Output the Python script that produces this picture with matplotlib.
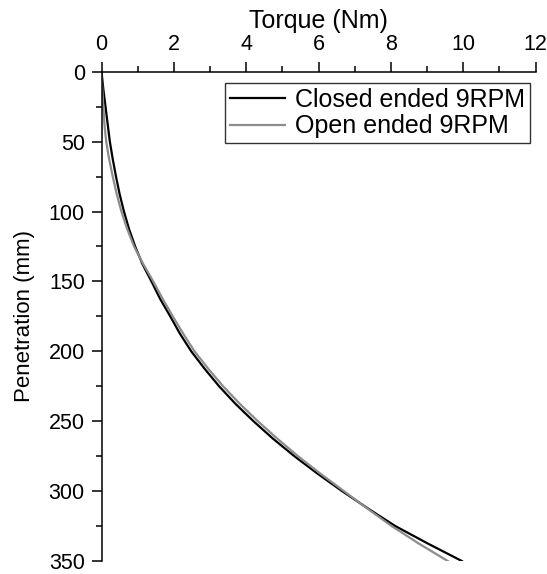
import matplotlib
matplotlib.use("Agg")
import matplotlib.pyplot as plt
from matplotlib.ticker import MultipleLocator

plt.rcParams['font.family'] = ['Liberation Sans', 'DejaVu Sans']

depth = [0, 12.5, 25, 37.5, 50, 62.5, 75, 87.5, 100, 112.5, 125, 137.5, 150, 162.5,
         175, 187.5, 200, 212.5, 225, 237.5, 250, 262.5, 275, 287.5, 300, 312.5,
         325, 337.5, 350]
closed_torque = [0, 0.05, 0.11, 0.17, 0.23, 0.31, 0.40, 0.50, 0.62, 0.76, 0.93, 1.13,
                 1.38, 1.62, 1.90, 2.17, 2.48, 2.85, 3.25, 3.70, 4.20, 4.74, 5.33,
                 5.97, 6.65, 7.37, 8.12, 9.02, 9.96]
open_torque = [0, 0.02, 0.05, 0.08, 0.13, 0.21, 0.31, 0.42, 0.55, 0.71, 0.90, 1.15,
               1.43, 1.69, 1.97, 2.26, 2.57, 2.95, 3.36, 3.82, 4.32, 4.86, 5.43,
               6.05, 6.70, 7.35, 8.02, 8.77, 9.57]

fig = plt.figure(figsize=(5.47, 5.74), dpi=100)
ax = fig.add_axes([0.1856, 0.0226, 0.7937, 0.8525])

ax.plot(closed_torque, depth, color='black', lw=1.6, label='Closed ended 9RPM')
ax.plot(open_torque, depth, color='#8c8c8c', lw=1.6, label='Open ended 9RPM')

ax.set_xlim(0, 12)
ax.set_ylim(350, 0)
ax.xaxis.set_ticks_position('top')
ax.xaxis.set_label_position('top')
ax.spines['right'].set_visible(False)
ax.spines['bottom'].set_visible(False)
ax.xaxis.set_major_locator(MultipleLocator(2))
ax.xaxis.set_minor_locator(MultipleLocator(1))
ax.yaxis.set_major_locator(MultipleLocator(50))
ax.yaxis.set_minor_locator(MultipleLocator(25))
ax.tick_params(which='major', direction='out', length=7.5, width=1.1, labelsize=15.5, pad=4.5)
ax.tick_params(which='minor', direction='out', length=4, width=1.1)
for s in ax.spines.values():
    s.set_linewidth(1.1)

ax.set_xlabel('Torque (Nm)', fontsize=18)
ax.xaxis.set_label_coords(0.5, 1.089)
ax.set_ylabel('Penetration (mm)', fontsize=16, labelpad=10)

leg = ax.legend(loc='upper right', bbox_to_anchor=(0.987, 0.977), fontsize=18,
                frameon=True, fancybox=False, edgecolor='black', handlelength=2.2,
                handletextpad=0.4, borderpad=0.2, labelspacing=0.1, borderaxespad=0)
leg.get_frame().set_linewidth(1.0)

fig.savefig('out.png', dpi=100)
